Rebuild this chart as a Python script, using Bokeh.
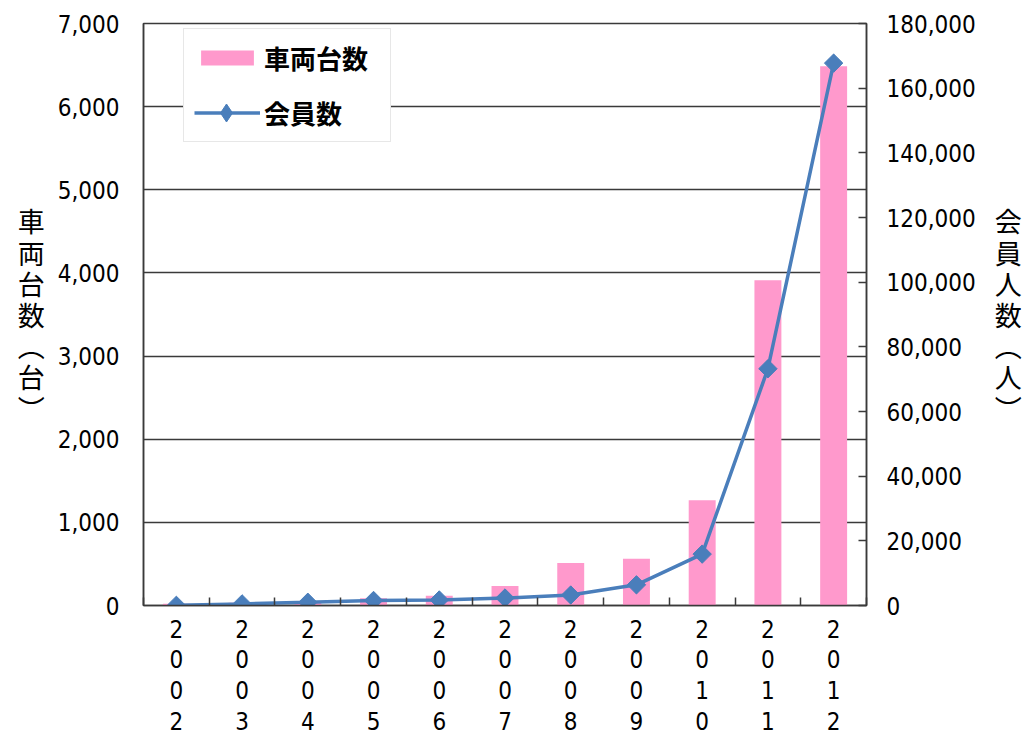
import numpy as np
from bokeh.plotting import figure
from bokeh.models import (Range1d, LinearAxis, FixedTicker, NumeralTickFormatter,
                          ColumnDataSource, Legend, LegendItem)
from bokeh.embed import file_html
from bokeh.resources import INLINE

# Car-sharing fleet size and membership, 2002-2012
years = ["2002", "2003", "2004", "2005", "2006", "2007",
         "2008", "2009", "2010", "2011", "2012"]
vehicles = [21, 32, 51, 86, 118, 236, 510, 563, 1265, 3911, 6486]
members = [50, 500, 1000, 1550, 1712, 2315, 3245, 6396, 15894, 73224, 167745]

vehicle_ticks = list(range(0, 7001, 1000))
member_ticks = list(range(0, 180001, 20000))

vehicle_title = "車両台数︵台︶"
member_title = "会員人数︵人︶"

BAR_COLOR = "#ff99cc"
LINE_COLOR = "#4a7ebb"
AXIS_COLOR = "#3a3a3a"
NUM_FONT = "DejaVu Sans Condensed"
JP_FONT = "Noto Sans CJK JP"

x = np.arange(len(years)) + 0.5
src = ColumnDataSource(dict(x=x, vehicles=vehicles, members=members))

p = figure(width=1024, height=738,
           x_range=Range1d(0, len(years)), y_range=Range1d(0, vehicle_ticks[-1]),
           output_backend="svg", toolbar_location=None,
           min_border_left=143, min_border_right=156,
           min_border_top=23, min_border_bottom=132)
p.extra_y_ranges = {"members": Range1d(0, member_ticks[-1])}
p.outline_line_color = AXIS_COLOR
p.outline_line_width = 1.5
p.background_fill_color = "white"
p.border_fill_color = "white"

# horizontal gridlines from the left scale only
p.xgrid.visible = False
p.ygrid.ticker = FixedTicker(ticks=vehicle_ticks)
p.ygrid.grid_line_color = AXIS_COLOR
p.ygrid.grid_line_width = 1.5

# x axis: labels centred on each year, tick marks on the category boundaries
xa = p.xaxis[0]
xa.ticker = FixedTicker(ticks=list(x), minor_ticks=list(range(len(years) + 1)))
xa.major_label_overrides = {float(xi): "\n".join(y) for xi, y in zip(x, years)}
xa.major_tick_in = 0
xa.major_tick_out = 0
xa.minor_tick_in = 8
xa.minor_tick_out = 0
xa.minor_tick_line_color = AXIS_COLOR
xa.minor_tick_line_width = 1.5
xa.axis_line_color = AXIS_COLOR
xa.axis_line_width = 1.5
xa.major_label_text_font = NUM_FONT
xa.major_label_text_font_size = "24px"
xa.major_label_text_line_height = 1.1
xa.major_label_text_color = "black"
xa.major_label_standoff = 10

# left axis: vehicles
ya = p.yaxis[0]
ya.ticker = FixedTicker(ticks=vehicle_ticks)
ya.formatter = NumeralTickFormatter(format="0,0")
ya.major_tick_in = 0
ya.major_tick_out = 0
ya.minor_tick_line_color = None
ya.axis_line_color = AXIS_COLOR
ya.axis_line_width = 1.5
ya.major_label_text_font = NUM_FONT
ya.major_label_text_font_size = "24px"
ya.major_label_text_color = "black"
ya.major_label_standoff = 24
ya.axis_label = "\n".join(vehicle_title)
ya.axis_label_orientation = "horizontal"
ya.axis_label_text_font = JP_FONT
ya.axis_label_text_font_style = "normal"
ya.axis_label_text_font_size = "27px"
ya.axis_label_text_line_height = 0.8
ya.axis_label_text_color = "black"
ya.axis_label_standoff = 10

# right axis: members
ra = LinearAxis(y_range_name="members", ticker=FixedTicker(ticks=member_ticks),
                formatter=NumeralTickFormatter(format="0,0"))
ra.major_tick_in = 8
ra.major_tick_out = 0
ra.major_tick_line_color = AXIS_COLOR
ra.major_tick_line_width = 1.5
ra.minor_tick_line_color = None
ra.axis_line_color = AXIS_COLOR
ra.axis_line_width = 1.5
ra.major_label_text_font = NUM_FONT
ra.major_label_text_font_size = "24px"
ra.major_label_text_color = "black"
ra.major_label_standoff = 20
ra.axis_label = "\n".join(member_title)
ra.axis_label_orientation = "horizontal"
ra.axis_label_text_font = JP_FONT
ra.axis_label_text_font_style = "normal"
ra.axis_label_text_font_size = "27px"
ra.axis_label_text_line_height = 0.8
ra.axis_label_text_color = "black"
ra.axis_label_standoff = 16
p.add_layout(ra, "right")

bars = p.vbar(x="x", top="vehicles", width=0.41, source=src,
              fill_color=BAR_COLOR, line_color=None)
line = p.line(x="x", y="members", source=src, y_range_name="members",
              line_color=LINE_COLOR, line_width=3.5)
# slim diamond that sits inside each point marker; it supplies the legend key
key_marker = p.scatter(x="x", y="members", source=src, y_range_name="members",
                       marker="diamond", size=17,
                       fill_color=LINE_COLOR, line_color=LINE_COLOR)
pts = p.scatter(x="x", y="members", source=src, y_range_name="members",
                marker="square", angle=np.pi / 4, size=13,
                fill_color=LINE_COLOR, line_color=LINE_COLOR)

legend = Legend(items=[LegendItem(label="車両台数", renderers=[bars]),
                       LegendItem(label="会員数", renderers=[line])],
                location=(40, 463))
legend.label_text_font = JP_FONT
legend.label_text_font_size = "26px"
legend.label_text_font_style = "bold"
legend.label_text_color = "black"
legend.glyph_width = 66
legend.glyph_height = 19
legend.label_standoff = 4
legend.label_width = 116
legend.spacing = 18
legend.padding = 10
legend.margin = 0
legend.border_line_color = "#d0d0d0"
legend.border_line_width = 1.5
legend.background_fill_color = "white"
legend.background_fill_alpha = 1.0
p.add_layout(legend)

key = Legend(items=[LegendItem(label=" ", renderers=[key_marker])],
             location=(50, 470))
key.glyph_width = 66
key.glyph_height = 45
key.label_text_font_size = "1px"
key.label_standoff = 0
key.padding = 0
key.margin = 0
key.border_line_color = None
key.background_fill_alpha = 0.0
p.add_layout(key)

open("out.html", "w").write(file_html(p, INLINE))
